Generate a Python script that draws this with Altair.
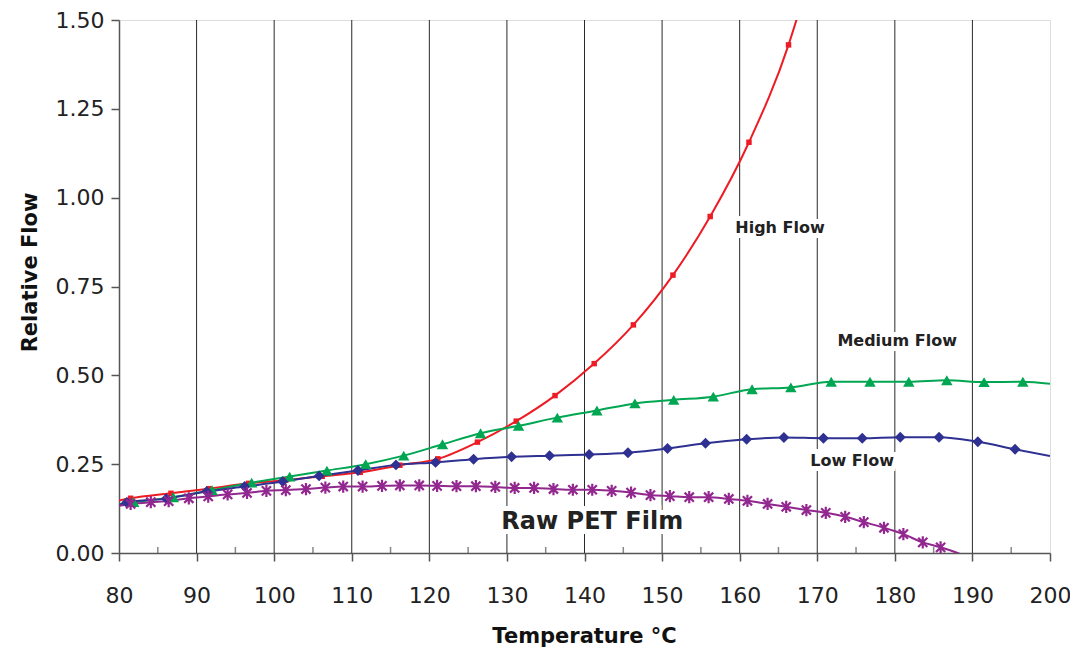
import altair as alt
import pandas as pd

# ---------------- data ----------------
HIGH_X = [81.5, 86.7, 91.6, 96.7, 101.5, 106.2, 111.1, 116.2, 121.1, 126.2, 131.2,
          136.2, 141.25, 146.3, 151.4, 156.2, 161.2, 166.3]
HIGH_Y = [0.154, 0.168, 0.181, 0.196, 0.205, 0.216, 0.227, 0.247, 0.265, 0.312, 0.371,
          0.443, 0.533, 0.642, 0.782, 0.947, 1.156, 1.430]
HIGH_START = (80, 0.148)
HIGH_END = (167.6, 1.52)

MED_X = [81.9, 87.0, 92.0, 97.1, 102.0, 106.8, 111.8, 116.7, 121.7, 126.6, 131.5, 136.5,
         141.6, 146.5, 151.5, 156.6, 161.6, 166.6, 171.8, 176.8, 181.8, 186.7, 191.5, 196.5]
MED_Y = [0.143, 0.157, 0.177, 0.198, 0.215, 0.232, 0.250, 0.274, 0.306, 0.337, 0.358, 0.381,
         0.401, 0.421, 0.431, 0.440, 0.461, 0.466, 0.482, 0.482, 0.482, 0.486, 0.481, 0.482]
MED_START = (80, 0.137)
MED_END = (200, 0.476)

LOW_X = [81.0, 86.1, 91.3, 96.2, 101.1, 105.8, 110.8, 115.7, 120.8, 125.7, 130.6, 135.5,
         140.6, 145.6, 150.7, 155.6, 160.9, 165.7, 170.8, 175.8, 180.7, 185.7, 190.7, 195.5]
LOW_Y = [0.142, 0.153, 0.173, 0.187, 0.201, 0.217, 0.232, 0.248, 0.255, 0.264, 0.271, 0.274,
         0.277, 0.282, 0.294, 0.309, 0.320, 0.325, 0.323, 0.323, 0.326, 0.326, 0.313, 0.292]
LOW_START = (80, 0.135)
LOW_END = (200, 0.273)

RAW_X = [81.5, 84.1, 86.4, 89.0, 91.5, 94.0, 96.5, 99.0, 101.5, 104.1, 106.6, 108.9, 111.4,
         113.9, 116.2, 118.7, 121.0, 123.5, 126.0, 128.5, 131.0, 133.5, 136.0, 138.5, 141.0,
         143.5, 146.0, 148.5, 151.0, 153.5, 156.0, 158.6, 161.0, 163.6, 166.0, 168.6, 171.1,
         173.6, 176.0, 178.6, 181.1, 183.6, 185.9]
RAW_Y = [0.138, 0.143, 0.146, 0.154, 0.159, 0.165, 0.169, 0.175, 0.177, 0.180, 0.184, 0.187,
         0.187, 0.189, 0.190, 0.190, 0.189, 0.188, 0.188, 0.186, 0.183, 0.183, 0.180, 0.178,
         0.178, 0.175, 0.170, 0.163, 0.160, 0.157, 0.157, 0.152, 0.147, 0.138, 0.130, 0.121,
         0.113, 0.102, 0.087, 0.071, 0.053, 0.030, 0.016]
RAW_START = (80, 0.133)
RAW_END = (189.6, -0.012)

SERIES = ["High Flow", "Medium Flow", "Low Flow", "Raw PET Film"]
COLORS = ["#ED1C24", "#00A651", "#2E3192", "#92278F"]

LABELS = ["High Flow", "Medium Flow", "Low Flow"]
LABEL_X = [165.2, 180.3, 174.5]
LABEL_Y = [0.915, 0.597, 0.259]
BIG_LABEL = ["Raw PET Film"]
BIG_LABEL_X = [141.0]
BIG_LABEL_Y = [0.087]

X_TICKS = list(range(80, 201, 10))
X_MINOR = list(range(85, 200, 10))
GRID_X = list(range(90, 191, 10))
Y_TICKS = [0, 0.25, 0.5, 0.75, 1.0, 1.25, 1.5]

# ---------------- tables ----------------
spec = [
    ("High Flow", HIGH_X, HIGH_Y, HIGH_START, HIGH_END),
    ("Medium Flow", MED_X, MED_Y, MED_START, MED_END),
    ("Low Flow", LOW_X, LOW_Y, LOW_START, LOW_END),
    ("Raw PET Film", RAW_X, RAW_Y, RAW_START, RAW_END),
]
line_rows, pt_rows = [], []
for name, xs_, ys_, st, en in spec:
    line_rows.append({"s": name, "t": st[0], "v": st[1]})
    for x, y in zip(xs_, ys_):
        line_rows.append({"s": name, "t": x, "v": y})
        pt_rows.append({"s": name, "t": x, "v": y})
    line_rows.append({"s": name, "t": en[0], "v": en[1]})
line_df = pd.DataFrame(line_rows)
pt_df = pd.DataFrame(pt_rows)

xs = alt.Scale(domain=[80, 200], nice=False, zero=False)
ys = alt.Scale(domain=[0, 1.5], nice=False, zero=False)
cs = alt.Scale(domain=SERIES, range=COLORS)

FONT = "DejaVu Sans"

x_axis = alt.Axis(values=X_TICKS, grid=False, title="Temperature °C", tickSize=8,
                  labelPadding=24, labelFontSize=22, labelFont=FONT, labelColor="#222",
                  labelFlush=False, labelOverlap=False,
                  titleFont=FONT, titleFontSize=21, titleFontWeight="bold", titleColor="#111",
                  titleX=465, titleY=89, titleBaseline="alphabetic", titleAlign="center",
                  domainColor="#555", domainWidth=1.5, tickColor="#555", tickWidth=1.5)
y_axis = alt.Axis(values=Y_TICKS, grid=False, format=".2f", title="Relative Flow", tickSize=8,
                  labelPadding=7, labelFontSize=22, labelFont=FONT, labelColor="#222",
                  labelFlush=False, labelOverlap=False,
                  titleFont=FONT, titleFontSize=21, titleFontWeight="bold", titleColor="#111",
                  titleX=-89, titleY=252, titleAngle=-90, titleBaseline="middle",
                  titleAlign="center",
                  domainColor="#555", domainWidth=1.5, tickColor="#555", tickWidth=1.5)

grid = alt.Chart(pd.DataFrame({"t": GRID_X})).mark_rule(color="#2a2a2a", strokeWidth=1).encode(
    x=alt.X("t:Q", scale=xs, axis=x_axis))

minor = alt.Chart(pd.DataFrame({"t": X_MINOR, "v": [0] * len(X_MINOR)})).mark_tick(
    orient="vertical", size=6, thickness=1.5, color="#555", yOffset=-3).encode(
    x=alt.X("t:Q", scale=xs), y=alt.Y("v:Q", scale=ys, axis=y_axis))

lines = alt.Chart(line_df).mark_line(strokeWidth=2, interpolate="monotone", clip=True).encode(
    x=alt.X("t:Q", scale=xs), y=alt.Y("v:Q", scale=ys),
    color=alt.Color("s:N", scale=cs, legend=None), detail="s:N")

def pts(name, **kw):
    return alt.Chart(pt_df[pt_df.s == name]).mark_point(**kw).encode(
        x=alt.X("t:Q", scale=xs), y=alt.Y("v:Q", scale=ys))

p_high = pts("High Flow", shape="square", size=30, filled=True, color=COLORS[0], opacity=1)
p_med = pts("Medium Flow", shape="triangle-up", size=130, filled=True, color=COLORS[1], opacity=1)
p_low = pts("Low Flow", shape="diamond", size=120, filled=True, color=COLORS[2], opacity=1)
p_raw = pts("Raw PET Film",
            shape="M-0.75,-0.75L0.75,0.75M-0.75,0.75L0.75,-0.75M0,-1L0,1",
            size=150, filled=False, color=COLORS[3], strokeWidth=2.2, opacity=1)

lab_df = pd.DataFrame({"label": LABELS, "t": LABEL_X, "v": LABEL_Y})
big_df = pd.DataFrame({"label": BIG_LABEL, "t": BIG_LABEL_X, "v": BIG_LABEL_Y})

def text_layers(df, size, weight):
    base = alt.Chart(df).encode(x=alt.X("t:Q", scale=xs), y=alt.Y("v:Q", scale=ys), text="label:N")
    halo = base.mark_text(font=FONT, fontSize=size, fontWeight=weight, align="center",
                          baseline="middle", color="white", stroke="white", strokeWidth=10)
    txt = base.mark_text(font=FONT, fontSize=size, fontWeight=weight, align="center",
                         baseline="middle", color="#222")
    return [halo, txt]

chart = alt.layer(
    grid, lines, p_high, p_med, p_low, p_raw, minor,
    *text_layers(lab_df, 16, "bold"), *text_layers(big_df, 24, "bold"),
).properties(
    width=931, height=533,
    autosize=alt.AutoSizeParams(type="none"),
    padding={"left": 111, "top": 12, "right": 20, "bottom": 95},
).configure_view(stroke="#aaaaaa", strokeWidth=2).configure(background="white")

chart.save("out.html", embed_options={"renderer": "svg", "actions": False})
